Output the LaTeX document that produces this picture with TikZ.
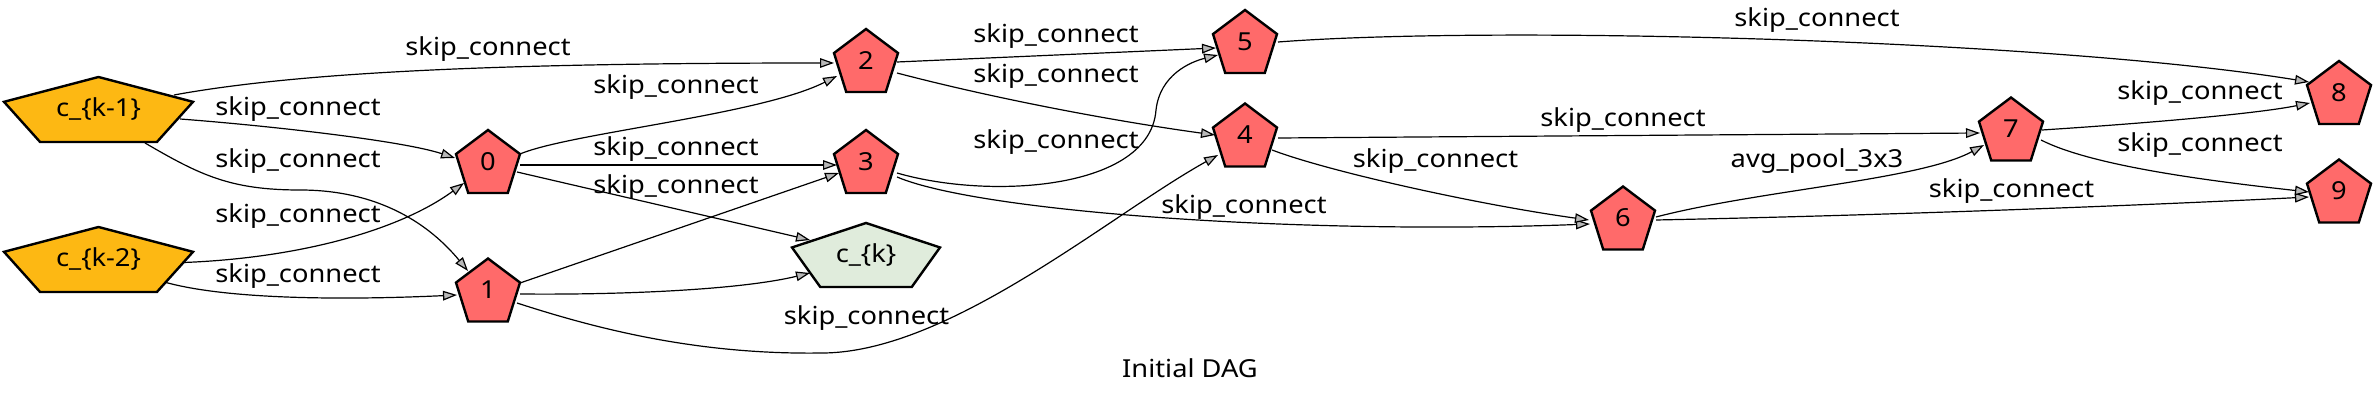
\documentclass[tikz,border=0pt]{standalone}
\usepackage{fontspec}
\setmainfont{Noto Sans}[FakeStretch=1.1]
\usetikzlibrary{arrows.meta}
\definecolor{redn}{HTML}{FF6A6A}
\definecolor{yel}{HTML}{FDB813}
\definecolor{grn}{HTML}{E0ECDC}
\tikzset{
  txt/.style={inner sep=0pt, font=\fontsize{12.4pt}{14pt}\selectfont},
  edge/.style={line width=0.6pt, -{Triangle[length=7pt,width=4.8pt,fill=black!28]}},
  pent/.style={line width=1.2pt, line join=miter},
}
\newcommand\pentagon[4]{%
  \draw[pent, fill=#4]
    ([shift={(0,{-0.5*#3})}]#1) -- ([shift={({0.5*#2},{-0.118*#3})}]#1)
    -- ([shift={({0.309*#2},{0.5*#3})}]#1) -- ([shift={({-0.309*#2},{0.5*#3})}]#1)
    -- ([shift={({-0.5*#2},{-0.118*#3})}]#1) -- cycle;}
\begin{document}
\begin{tikzpicture}[x=0.5pt,y=-0.5pt]
\useasboundingbox[fill=white] (0,0) rectangle (2378,400);
% positions
\coordinate (pk1) at (98.5,109.5);
\coordinate (pk2) at (98.5,259.5);
\coordinate (p0) at (488,161.5);
\coordinate (p1) at (488,290);
\coordinate (p2) at (866,60.5);
\coordinate (p3) at (866,161.5);
\coordinate (pk) at (866,255);
\coordinate (p5) at (1245,41.5);
\coordinate (p4) at (1245,135);
\coordinate (p6) at (1623,218);
\coordinate (p7) at (2011,129);
\coordinate (p8) at (2339,92.5);
\coordinate (p9) at (2339,191);
% shapes
\pentagon{pk1}{189}{65}{yel}
\pentagon{pk2}{189}{65}{yel}
\pentagon{pk}{148}{64}{grn}
\foreach \p in {p0,p1,p2,p3,p4,p5,p6,p7,p8,p9}{\pentagon{\p}{64}{63}{redn}}
% node texts
\node[txt] (ck1) at (pk1) {c\_\{k-1\}};
\node[txt] (ck2) at (pk2) {c\_\{k-2\}};
\node[txt] (ck) at (pk) {c\_\{k\}};
\node[txt] (n0) at (p0) {0};
\node[txt] (n1) at (p1) {1};
\node[txt] (n2) at (p2) {2};
\node[txt] (n3) at (p3) {3};
\node[txt] (n4) at (p4) {4};
\node[txt] (n5) at (p5) {5};
\node[txt] (n6) at (p6) {6};
\node[txt] (n7) at (p7) {7};
\node[txt] (n8) at (p8) {8};
\node[txt] (n9) at (p9) {9};
% edges
\draw[edge] ([shift={(75.5,-14.5)}]ck1.center) .. controls (300,72) and (500,63) .. ([shift={(-32,2.5)}]n2.center);
\draw[edge] ([shift={(81.5,9.5)}]ck1.center) .. controls (260,125) and (400,140) .. ([shift={(-33,-3.5)}]n0.center);
\draw[edge] ([shift={(46.5,33.5)}]ck1.center) .. controls (200,175) and (230,190) .. (300,190) .. controls (380,190) and (430,225) .. ([shift={(-20,-19)}]n1.center);
\draw[edge] ([shift={(85.5,3)}]ck2.center) .. controls (300,258) and (400,230) .. ([shift={(-24,21.5)}]n0.center);
\draw[edge] ([shift={(67.5,23)}]ck2.center) .. controls (230,300) and (350,300) .. ([shift={(-31,5)}]n1.center);
\draw[edge] ([shift={(32,-7.5)}]n0.center) .. controls (570,133) and (760,115) .. ([shift={(-29,15.5)}]n2.center);
\draw[edge] ([shift={(32,3.5)}]n0.center) -- ([shift={(-29,3.5)}]n3.center);
\draw[edge] ([shift={(29,10.5)}]n0.center) -- ([shift={(-56,-15)}]ck.center);
\draw[edge] ([shift={(32,-7)}]n1.center) -- ([shift={(-27,11.5)}]n3.center);
\draw[edge] ([shift={(32,4)}]n1.center) .. controls (620,295) and (740,290) .. ([shift={(-56,18)}]ck.center);
\draw[edge] ([shift={(29,13)}]n1.center) .. controls (600,330) and (700,355) .. (823,353) .. controls (950,352) and (1110,215) .. ([shift={(-27,20)}]n4.center);
\draw[edge] ([shift={(31,1.5)}]n2.center) -- ([shift={(-29,6.5)}]n5.center);
\draw[edge] ([shift={(31,12.5)}]n2.center) .. controls (1000,100) and (1120,122) .. ([shift={(-30,0)}]n4.center);
\draw[edge] ([shift={(31,11.5)}]n3.center) .. controls (990,200) and (1150,190) .. (1156,110) .. controls (1160,75) and (1190,62) .. ([shift={(-27,13.5)}]n5.center);
\draw[edge] ([shift={(31,15.5)}]n3.center) .. controls (980,212) and (1300,235) .. ([shift={(-33,6)}]n6.center);
\draw[edge] ([shift={(33,3)}]n4.center) -- ([shift={(-31,4)}]n7.center);
\draw[edge] ([shift={(27,15)}]n4.center) .. controls (1330,172) and (1480,205) .. ([shift={(-34,2)}]n6.center);
\draw[edge] ([shift={(33,0.5)}]n5.center) .. controls (1500,25) and (2050,40) .. ([shift={(-30,-10.5)}]n8.center);
\draw[edge] ([shift={(33,-1)}]n6.center) .. controls (1760,190) and (1920,180) .. ([shift={(-27,16)}]n7.center);
\draw[edge] ([shift={(33,2)}]n6.center) .. controls (1900,215) and (2150,205) .. ([shift={(-30,6)}]n9.center);
\draw[edge] ([shift={(31,1)}]n7.center) .. controls (2120,125) and (2250,115) .. ([shift={(-29,10.5)}]n8.center);
\draw[edge] ([shift={(30,11)}]n7.center) .. controls (2090,165) and (2200,180) .. ([shift={(-30,1)}]n9.center);
% labels
\node[txt] (la) at (488,49) {skip\_connect};
\node[txt] (lb) at (298,109) {skip\_connect};
\node[txt] (lc) at (298,161) {skip\_connect};
\node[txt] (ld) at (298,216) {skip\_connect};
\node[txt] (le) at (298,276) {skip\_connect};
\node[txt] (lf) at (676,87.5) {skip\_connect};
\node[txt] (lg) at (676,149) {skip\_connect};
\node[txt] (lh) at (676,187.5) {skip\_connect};
\node[txt] (li) at (866.5,318) {skip\_connect};
\node[txt] (lj) at (1056,36) {skip\_connect};
\node[txt] (lk) at (1056,76.5) {skip\_connect};
\node[txt] (ll) at (1056,142.5) {skip\_connect};
\node[txt] (lm) at (1244,207.5) {skip\_connect};
\node[txt] (ln) at (1817,20) {skip\_connect};
\node[txt] (lo) at (1623,120) {skip\_connect};
\node[txt] (lp) at (1435.5,161.5) {skip\_connect};
\node[txt] (lq) at (1817,161.5) {avg\_pool\_3x3};
\node[txt] (lr) at (2011.5,191.5) {skip\_connect};
\node[txt] (ls) at (2200,93.5) {skip\_connect};
\node[txt] (lt) at (2200,145) {skip\_connect};
\node[txt] (title) at (1190,368.5) {Initial DAG};
\end{tikzpicture}
\end{document}
